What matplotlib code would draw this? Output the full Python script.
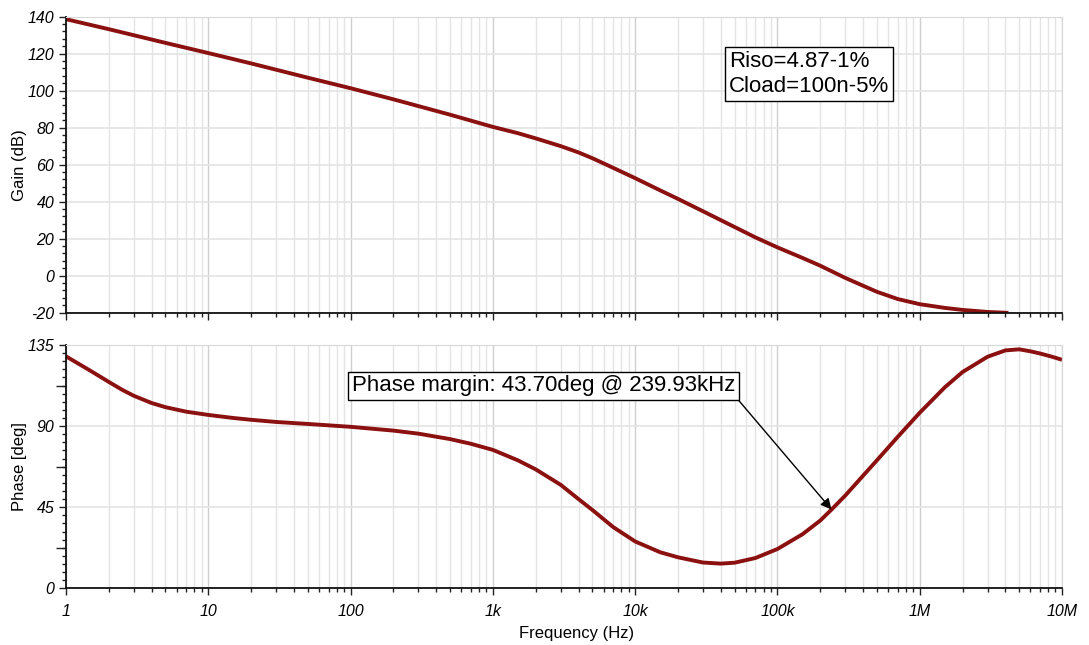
import matplotlib
matplotlib.use("Agg")
import matplotlib.pyplot as plt
from matplotlib.ticker import FixedLocator, NullFormatter
import numpy as np

# ---- data ----
gain_freq = [1, 2, 5, 10, 20, 50, 100, 200, 500, 1e3, 1.5e3, 2e3, 3e3, 4e3, 5e3, 7e3, 1e4,
             1.5e4, 2e4, 3e4, 5e4, 7e4, 1e5, 1.5e5, 2e5, 3e5, 5e5, 7e5, 1e6, 1.5e6, 2e6,
             3e6, 4.2e6]
gain_db = [138.6, 133.2, 125.8, 120.3, 114.7, 107.0, 101.3, 95.3, 87.0, 80.4, 77.0, 74.2,
           70.0, 66.6, 63.5, 58.3, 52.7, 46.1, 41.5, 34.8, 26.3, 20.7, 15.3, 9.6, 5.4,
           -1.2, -8.7, -12.6, -15.4, -17.4, -18.5, -19.6, -20.1]

phase_freq = [1, 1.5, 2, 2.5, 3, 4, 5, 7, 10, 15, 20, 30, 50, 100, 200, 300, 500, 700, 1e3,
              1.5e3, 2e3, 3e3, 4e3, 5e3, 7e3, 1e4, 1.5e4, 2e4, 3e4, 4e4, 5e4, 7e4, 1e5,
              1.5e5, 2e5, 2.4e5, 3e5, 4e5, 5e5, 7e5, 1e6, 1.5e6, 2e6, 3e6, 4e6, 5e6, 6e6,
              7e6, 8.5e6, 1e7]
phase_deg = [128.7, 120.5, 114.5, 110.0, 106.8, 102.8, 100.5, 98.0, 96.2, 94.5, 93.5,
             92.3, 91.2, 89.6, 87.5, 85.8, 82.8, 80.2, 76.8, 71.0, 66.0, 57.4, 49.5, 43.5,
             34.0, 26.0, 20.0, 17.2, 14.3, 13.7, 14.2, 16.8, 21.8, 30.0, 37.6, 43.7, 51.5,
             62.5, 71.0, 84.0, 97.4, 111.5, 120.0, 128.5, 132.0, 132.6, 131.5, 130.3, 128.5,
             126.8]

x_ticks = [1, 10, 100, 1e3, 1e4, 1e5, 1e6, 1e7]
x_tick_labels = ["1", "10", "100", "1k", "10k", "100k", "1M", "10M"]
gain_ticks = [-20, 0, 20, 40, 60, 80, 100, 120, 140]
phase_ticks = [0, 45, 90, 135]

pm_freq = 239.93e3
pm_deg = 43.70
pm_label = "Phase margin: 43.70deg @ 239.93kHz"
param_label = "Riso=4.87-1%\nCload=100n-5%"

# ---- style ----
plt.rcParams['font.family'] = ['Liberation Sans', 'DejaVu Sans']
W, H = 1089, 645
fig = plt.figure(figsize=(W / 100, H / 100), dpi=100)
line_color = '#8b1010'
grid_major = '#cfcfcf'
grid_minor = '#e4e4e4'

ax1 = fig.add_axes([66 / W, 1 - 312.7 / H, 996 / W, 296.1 / H])
ax2 = fig.add_axes([66 / W, 1 - 588.3 / H, 996 / W, 243.3 / H])

minor_x = [m * 10 ** d for d in range(0, 7) for m in range(2, 10)]

for ax in (ax1, ax2):
    ax.set_xscale('log')
    ax.set_xlim(1, 1e7)
    ax.xaxis.set_major_locator(FixedLocator(x_ticks))
    ax.xaxis.set_minor_locator(FixedLocator(minor_x))
    ax.xaxis.set_minor_formatter(NullFormatter())
    ax.grid(True, which='major', axis='x', color=grid_major, lw=1.0)
    ax.grid(True, which='minor', axis='x', color=grid_minor, lw=1.0)
    ax.grid(True, which='major', axis='y', color=grid_minor, lw=1.2)
    ax.set_axisbelow(True)
    for s in ('top', 'right'):
        ax.spines[s].set_color('#d8d8d8')
    for s in ('left', 'bottom'):
        ax.spines[s].set_color('#111111')
        ax.spines[s].set_linewidth(1.3)
    ax.tick_params(which='major', length=5, width=1, color='#222222', labelsize=11.5)
    ax.tick_params(which='minor', length=3, width=1, color='#222222')

ax1.set_xticklabels([])
ax2.set_xticks(x_ticks)
ax2.set_xticklabels(x_tick_labels, style='italic', fontsize=11.5)
ax2.tick_params(axis='x', pad=6)

# gain
ax1.plot(gain_freq, gain_db, color=line_color, lw=2.8, solid_capstyle='butt')
ax1.set_ylim(-20, 140)
ax1.set_yticks(gain_ticks)
ax1.set_yticklabels([str(v) for v in gain_ticks], style='italic', fontsize=11.5)
ax1.yaxis.set_minor_locator(FixedLocator(np.arange(-20, 141, 4)))
ax1.set_ylabel("Gain (dB)", fontsize=12)
ax1.yaxis.set_label_coords(-0.039, 0.5)

# phase
ax2.plot(phase_freq, phase_deg, color=line_color, lw=2.8, solid_capstyle='butt')
ax2.set_ylim(0, 135)
ax2.set_yticks(phase_ticks)
ax2.set_yticklabels([str(v) for v in phase_ticks], style='italic', fontsize=11.5)
ax2.yaxis.set_minor_locator(FixedLocator(np.arange(0, 135.1, 4.5)))
ax2.set_ylabel("Phase [deg]", fontsize=12)
ax2.yaxis.set_label_coords(-0.039, 0.5)
ax2.set_xlabel("Frequency (Hz)", fontsize=12)
ax2.xaxis.set_label_coords(0.513, -0.155)

sec = ax2.secondary_yaxis('left')
sec.set_yticks([22.5, 67.5, 112.5])
sec.set_yticklabels([])
sec.tick_params(length=7, width=1, color='#222222')
sec.spines['left'].set_visible(False)

# parameter box
fig.text(729 / W, 1 - 74 / H, param_label, fontsize=16, ha='left', va='center',
         linespacing=1.3,
         bbox=dict(boxstyle='square,pad=0.18', fc='white', ec='black', lw=1.0))

# phase margin annotation
ax2.annotate(pm_label, xy=(pm_freq, pm_deg), xycoords='data',
             xytext=(352, H - 386), textcoords='figure pixels',
             fontsize=16, ha='left', va='center',
             bbox=dict(boxstyle='square,pad=0.16', fc='white', ec='black', lw=1.0),
             arrowprops=dict(arrowstyle='-|>', color='black', lw=1.0, relpos=(1, 0),
                             shrinkA=0, shrinkB=0, mutation_scale=16))

fig.savefig("out.png", dpi=100)
